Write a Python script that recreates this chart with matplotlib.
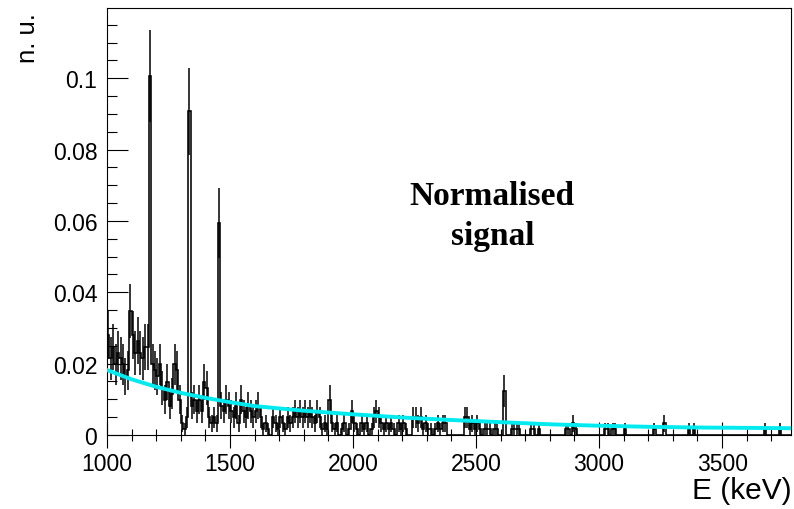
import numpy as np
import matplotlib
matplotlib.use("Agg")
import matplotlib.pyplot as plt
from matplotlib.ticker import MultipleLocator, FuncFormatter

plt.rcParams['font.family'] = ['Liberation Sans', 'DejaVu Sans']

# Histogram: 10 keV bins starting at 1000 keV, contents in raw counts
E_MIN = 1000
BIN_WIDTH = 10
NORM = 0.00165  # normalisation of one count

counts = [
    17, 13, 15, 12, 14, 13, 12, 10, 11, 21,   # 1000
    17, 14, 16, 14, 13, 15, 15, 61, 12, 11,   # 1100
    10, 12, 8, 6, 9, 5, 7, 12, 11, 6,         # 1200
    2, 1, 3, 55, 5, 6, 4, 6, 4, 9,            # 1300
    8, 3, 2, 3, 2, 36, 5, 4, 6, 5,            # 1400
    4, 3, 5, 2, 6, 4, 3, 5, 4, 3,             # 1500
    4, 5, 3, 1, 2, 1, 0, 3, 2, 1,             # 1600
    3, 2, 1, 3, 2, 3, 4, 3, 4, 3,             # 1700
    4, 3, 4, 3, 2, 4, 3, 1, 2, 1,             # 1800
    6, 2, 1, 2, 0, 1, 2, 0, 1, 4,             # 1900
    2, 1, 0, 2, 1, 2, 0, 1, 3, 4,             # 2000
    3, 2, 1, 2, 1, 2, 1, 0, 2, 1,             # 2100
    2, 1, 0, 0, 3, 3, 2, 3, 1, 2,             # 2200
    1, 1, 0, 1, 2, 1, 2, 2, 0, 0,             # 2300
    0, 0, 0, 0, 0, 3, 3, 1, 2, 1,             # 2400
    2, 1, 0, 1, 1, 1, 0, 1, 1, 0,             # 2500
    0, 7.5, 0, 0, 1, 1, 1, 1, 0, 0,           # 2600
    0, 0, 1, 1, 0, 1, 0, 0, 0, 0,             # 2700
    0, 0, 0, 0, 0, 0, 1, 1, 0, 2,             # 2800
    1, 0, 0, 0, 0, 0, 0, 0, 0, 0,             # 2900
    0, 0, 1, 1, 0, 1, 1, 0, 0, 0,             # 3000
    1, 0, 0, 0, 0, 0, 0, 0, 0, 0,             # 3100
    0, 0, 1, 0, 0, 0, 2, 0, 0, 0,             # 3200
    0, 0, 0, 0, 0, 0, 1, 0, 1, 0,             # 3300
    0, 0, 0, 0, 0, 0, 0, 0, 0, 0,             # 3400
    0, 0, 0, 0, 0, 0, 0, 0, 0, 0,             # 3500
    0, 0, 0, 0, 0, 0, 0, 1, 0, 0,             # 3600
    0, 0, 0, 1, 0, 0, 0, 0,                   # 3700
]

# background fit curve (cyan)
bkg_e = [1000, 1100, 1200, 1300, 1400, 1500, 1600, 1800, 2000, 2200,
         2400, 2600, 2800, 3000, 3200, 3400, 3600, 3780]
bkg_v = [0.0182, 0.0156, 0.0135, 0.0118, 0.0104, 0.0092, 0.0081, 0.0068,
         0.0058, 0.0049, 0.0042, 0.0036, 0.0030, 0.0026, 0.0023, 0.0021,
         0.0020, 0.0019]

counts = np.array(counts, dtype=float)
edges = E_MIN + BIN_WIDTH * np.arange(len(counts) + 1)
centers = 0.5 * (edges[:-1] + edges[1:])
values = counts * NORM
errors = np.sqrt(counts) * NORM

fig = plt.figure(figsize=(7.94, 5.10), dpi=100)
ax = fig.add_axes([0.1348, 0.1451, 0.8614, 0.8373])

ax.stairs(values, edges, color='black', lw=1.15)
nz = counts > 0
ax.errorbar(centers[nz], values[nz], yerr=errors[nz], fmt='none',
            ecolor='black', elinewidth=1.1, capsize=0)
ax.plot(bkg_e, bkg_v, color='#00eaf0', lw=2.8, zorder=5)

ax.set_xlim(1000, 3780)
ax.set_ylim(0, 0.1197)

ax.xaxis.set_major_locator(MultipleLocator(500))
ax.xaxis.set_minor_locator(MultipleLocator(100))
ax.yaxis.set_major_locator(MultipleLocator(0.02))
ax.yaxis.set_minor_locator(MultipleLocator(0.005))
ax.yaxis.set_major_formatter(FuncFormatter(lambda v, p: '%g' % round(v, 3)))

ax.tick_params(axis='x', which='major', direction='inout', length=19, width=0.8,
               labelsize=16.5, pad=2.5, top=False)
ax.tick_params(axis='x', which='minor', direction='inout', length=9, width=0.8, top=False)
ax.tick_params(axis='y', which='major', direction='in', length=15, width=0.8,
               labelsize=16.5, pad=7, right=False)
ax.tick_params(axis='y', which='minor', direction='in', length=7.5, width=0.8, right=False)
for s in ax.spines.values():
    s.set_linewidth(0.8)

fig.text(0.997, 0.022, 'E (keV)', ha='right', va='baseline', fontsize=21.5)
fig.text(0.035, 0.975, 'n. u.', rotation=90, ha='center', va='top', fontsize=18.5)

fig.text(492 / 794, 1 - 205 / 510, 'Normalised', ha='center', va='baseline',
         fontsize=24, fontweight='bold', family=['Liberation Serif', 'DejaVu Serif'])
fig.text(493 / 794, 1 - 245 / 510, 'signal', ha='center', va='baseline',
         fontsize=24, fontweight='bold', family=['Liberation Serif', 'DejaVu Serif'])

fig.savefig('out.png', dpi=100)
